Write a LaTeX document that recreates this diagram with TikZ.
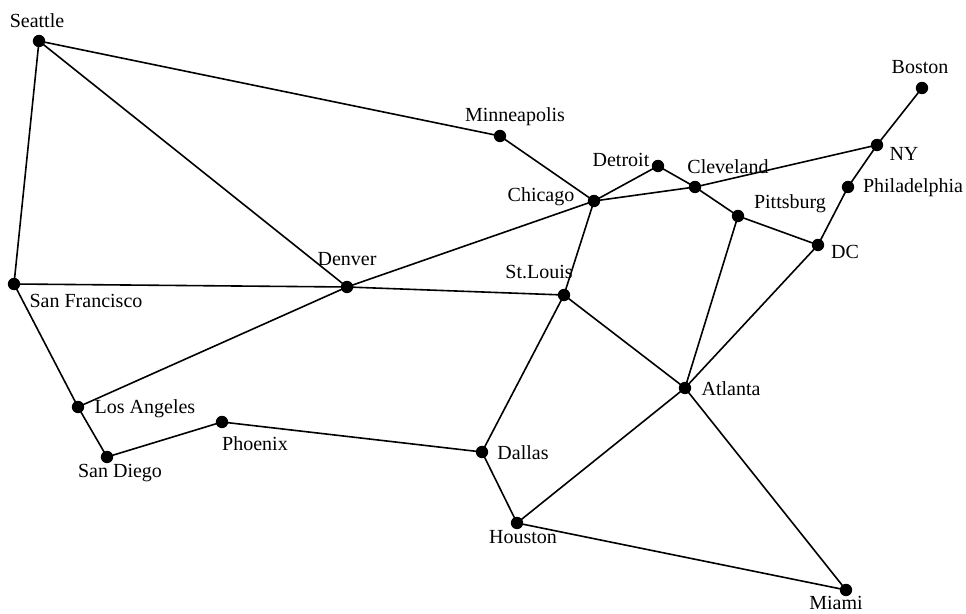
\documentclass[tikz,border=0pt]{standalone}
\usepackage{fontspec}
\setmainfont{Liberation Serif}
\begin{document}
\begin{tikzpicture}[x=0.5pt,y=-0.5pt,
  city/.style={circle,fill=black,inner sep=0pt,minimum size=6.2pt},
  lab/.style={anchor=base,inner sep=0pt,font=\fontsize{10}{12}\selectfont},
  road/.style={line width=0.8pt,black}]
\useasboundingbox (0,0) rectangle (966,614);
% roads first (drawn from named coordinates below)
\coordinate (sea) at (39,41);
\coordinate (sf) at (14,284);
\coordinate (la) at (78,407);
\coordinate (sd) at (107,457);
\coordinate (phx) at (222,422);
\coordinate (den) at (347,287);
\coordinate (min) at (500,136);
\coordinate (chi) at (594,201);
\coordinate (det) at (658,166);
\coordinate (cle) at (695,187);
\coordinate (pit) at (738,216);
\coordinate (ny) at (877,145);
\coordinate (bos) at (922,88);
\coordinate (phi) at (848,187);
\coordinate (dc) at (818,245);
\coordinate (stl) at (564,295);
\coordinate (atl) at (685,388);
\coordinate (dal) at (482,452);
\coordinate (hou) at (517,523);
\coordinate (mia) at (846,590);
\draw[road] (sea) -- (min);
\draw[road] (sea) -- (den);
\draw[road] (sea) -- (sf);
\draw[road] (sf) -- (den);
\draw[road] (sf) -- (la);
\draw[road] (la) -- (den);
\draw[road] (la) -- (sd);
\draw[road] (sd) -- (phx);
\draw[road] (phx) -- (dal);
\draw[road] (den) -- (chi);
\draw[road] (den) -- (stl);
\draw[road] (min) -- (chi);
\draw[road] (chi) -- (det);
\draw[road] (chi) -- (cle);
\draw[road] (det) -- (cle);
\draw[road] (cle) -- (pit);
\draw[road] (cle) -- (ny);
\draw[road] (ny) -- (bos);
\draw[road] (ny) -- (phi);
\draw[road] (phi) -- (dc);
\draw[road] (pit) -- (dc);
\draw[road] (pit) -- (atl);
\draw[road] (dc) -- (atl);
\draw[road] (chi) -- (stl);
\draw[road] (stl) -- (atl);
\draw[road] (stl) -- (dal);
\draw[road] (dal) -- (hou);
\draw[road] (hou) -- (atl);
\draw[road] (hou) -- (mia);
\draw[road] (atl) -- (mia);
% city dots
\foreach \c in {sea,sf,la,sd,phx,den,min,chi,det,cle,pit,ny,bos,phi,dc,stl,atl,dal,hou,mia}
  \node[city] (n\c) at (\c) {};
% labels
\node[lab] (lsea) at (37,28) {Seattle};
\node[lab] (lsf) at (86,308) {San Francisco};
\node[lab] (lla) at (145,414) {Los Angeles};
\node[lab] (lsd) at (120,478) {San Diego};
\node[lab] (lphx) at (255,451) {Phoenix};
\node[lab] (lden) at (347,266) {Denver};
\node[lab] (lmin) at (515,122) {Minneapolis};
\node[lab] (lchi) at (541,202) {Chicago};
\node[lab] (ldet) at (621,167) {Detroit};
\node[lab] (lcle) at (728,174) {Cleveland};
\node[lab] (lpit) at (790,209) {Pittsburg};
\node[lab] (lbos) at (920,74) {Boston};
\node[lab] (lny) at (904,161) {NY};
\node[lab] (lphi) at (913,193) {Philadelphia};
\node[lab] (ldc) at (845,259) {DC};
\node[lab] (lstl) at (539,279) {St.Louis};
\node[lab] (latl) at (731,396) {Atlanta};
\node[lab] (ldal) at (523,460) {Dallas};
\node[lab] (lhou) at (523,544) {Houston};
\node[lab] (lmia) at (836,610) {Miami};
\end{tikzpicture}
\end{document}
